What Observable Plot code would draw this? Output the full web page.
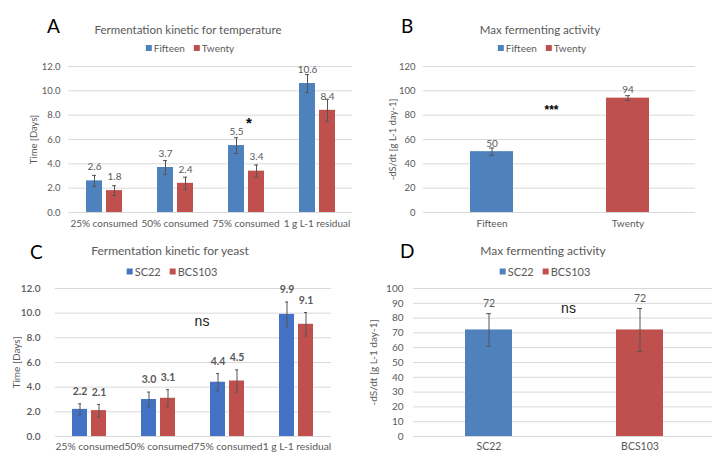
<!DOCTYPE html>
<html><head><meta charset="utf-8">
<script src="https://cdn.jsdelivr.net/npm/d3@7"></script>
<script src="https://cdn.jsdelivr.net/npm/@observablehq/plot@0.6"></script>
<style>
body{margin:0;background:#fff;}
#fig{position:relative;width:712px;height:453px;overflow:hidden;background:#fff;font-family:Lato,sans-serif;color:#595959}
.panel{position:absolute}
.panel svg{overflow:visible;max-width:none}
.t{position:absolute;transform:translate(-50%,-50%);white-space:nowrap;font-size:11.5px;color:#595959}
.letter{position:absolute;transform:translate(0,-50%);font-size:19px;color:#000;line-height:1}
.legend{position:absolute;transform:translate(-50%,-50%);white-space:nowrap;font-size:10px;color:#595959}
.sw{display:inline-block;width:6px;height:6px;margin-right:2px;position:relative;top:-1px}
.gap{display:inline-block;width:9px}
</style>
</head><body>
<div id="fig"></div>
<script>
// ---------- data ----------
const stages = ["25% consumed", "50% consumed", "75% consumed", "1 g L-1 residual"];
const tempSeries = ["Fifteen", "Twenty"];
const tempFifteen = [2.6, 3.7, 5.5, 10.6];
const tempTwenty = [1.8, 2.4, 3.4, 8.4];
const tempFifteenErr = [0.45, 0.57, 0.65, 0.73];
const tempTwentyErr = [0.4, 0.5, 0.5, 0.9];
const maxTempValues = [50, 94];
const maxTempErr = [3, 2];
const yeastSeries = ["SC22", "BCS103"];
const yeastSC22 = [2.2, 3.0, 4.4, 9.9];
const yeastBCS103 = [2.1, 3.1, 4.5, 9.1];
const yeastSC22Err = [0.45, 0.6, 0.7, 1.0];
const yeastBCS103Err = [0.5, 0.7, 0.9, 0.95];
const maxYeastValues = [72, 72];
const maxYeastErr = [11, 14.5];
const kineticTicks = [0, 2, 4, 6, 8, 10, 12];
const maxTempTicks = [0, 20, 40, 60, 80, 100, 120];
const maxYeastTicks = [0, 10, 20, 30, 40, 50, 60, 70, 80, 90, 100];

// ---------- styles ----------
const blue = "#4f81bd", blueC = "#4472c4", red = "#c0504d";
const gridColor = "#d9d9d9", errColor = "#555555", txt = "#595959";
const baseStyle = {fontFamily: "Lato, sans-serif", fontSize: "10px", color: txt, background: "transparent", overflow: "visible"};

function kineticRows(series, vals, errs) {
  return stages.flatMap((s, i) => series.map((k, j) => ({stage: s, series: k, value: vals[j][i], err: errs[j][i]})));
}
function simpleRows(series, vals, errs) {
  return series.map((k, i) => ({series: k, value: vals[i], err: errs[i]}));
}
const rowsA = kineticRows(tempSeries, [tempFifteen, tempTwenty], [tempFifteenErr, tempTwentyErr]);
const rowsB = simpleRows(tempSeries, maxTempValues, maxTempErr);
const rowsC = kineticRows(yeastSeries, [yeastSC22, yeastBCS103], [yeastSC22Err, yeastBCS103Err]);
const rowsD = simpleRows(yeastSeries, maxYeastValues, maxYeastErr);

function errMarks(rows, facet, capInset) {
  const fx = facet ? "stage" : undefined;
  return [
    Plot.ruleX(rows, {fx, x: "series", y1: d => d.value - d.err, y2: d => d.value + d.err, stroke: errColor, strokeWidth: 1}),
    Plot.tickY(rows, {fx, x: "series", y: d => d.value + d.err, stroke: errColor, inset: capInset}),
    Plot.tickY(rows, {fx, x: "series", y: d => d.value - d.err, stroke: errColor, inset: capInset})
  ];
}

// ---------- Panel A ----------
const plotA = Plot.plot({
  width: 360, height: 235, marginLeft: 68, marginRight: 8, marginTop: 66, marginBottom: 23,
  style: baseStyle,
  fx: {domain: stages, padding: 0, axis: null},
  x: {domain: tempSeries, paddingInner: 0.2, paddingOuter: 0.875, axis: null},
  y: {domain: [0, 12], axis: null},
  color: {domain: tempSeries, range: [blue, red]},
  marks: [
    Plot.gridY({ticks: kineticTicks, stroke: gridColor, strokeOpacity: 1}),
    Plot.axisY({ticks: kineticTicks, tickSize: 0, tickPadding: 8, tickFormat: d3.format(".1f"), fontSize: 9.5,
      label: "Time [Days]", labelAnchor: "center", labelOffset: 38, labelArrow: "none"}),
    Plot.axisFx({anchor: "bottom", tickSize: 0, tickPadding: 7, label: null, fontSize: 10}),
    Plot.barY(rowsA, {fx: "stage", x: "series", y: "value", fill: "series"}),
    ...errMarks(rowsA, true, 6),
    Plot.text(rowsA, {fx: "stage", x: "series", y: "value", text: d => d.value.toFixed(1), dy: -14, fill: txt, fontSize: 10}),
    Plot.text(["*"], {fx: ["75% consumed"], y: [7.3], text: d => d, dx: 3, fill: "#000", fontSize: 15, fontWeight: "bold", fontFamily: "Liberation Sans"})
  ]
});

// ---------- Panel B ----------
const plotB = Plot.plot({
  width: 357, height: 235, marginLeft: 68, marginRight: 17, marginTop: 66, marginBottom: 23,
  style: baseStyle,
  x: {domain: tempSeries, paddingInner: 0.684, paddingOuter: 0.342, axis: null},
  y: {domain: [0, 120], axis: null},
  color: {domain: tempSeries, range: [blue, red]},
  marks: [
    Plot.gridY({ticks: maxTempTicks, stroke: gridColor, strokeOpacity: 1}),
    Plot.axisY({ticks: maxTempTicks, tickSize: 0, tickPadding: 8, fontSize: 9.5,
      label: "-dS/dt [g L-1 day-1]", labelAnchor: "center", labelOffset: 34, labelArrow: "none"}),
    Plot.axisX({tickSize: 0, tickPadding: 7, label: null, fontSize: 10}),
    Plot.barY(rowsB, {x: "series", y: "value", fill: "series"}),
    ...errMarks(rowsB, false, 19),
    Plot.text(rowsB, {x: "series", y: "value", text: d => String(d.value), dy: -8, fill: txt, fontSize: 10}),
    Plot.text(["***"], {y: [84], text: d => d, dx: -8, fill: "#000", fontSize: 12, fontWeight: "bold", fontFamily: "Liberation Sans"})
  ]
});

// ---------- Panel C ----------
const plotC = Plot.plot({
  width: 360, height: 223, marginLeft: 54, marginRight: 28, marginTop: 58, marginBottom: 17,
  style: baseStyle,
  fx: {domain: stages, padding: 0, axis: null},
  x: {domain: yeastSeries, paddingInner: 0.2, paddingOuter: 0.87, axis: null},
  y: {domain: [0, 12], axis: null},
  color: {domain: yeastSeries, range: [blueC, red]},
  marks: [
    Plot.gridY({ticks: kineticTicks, stroke: gridColor, strokeOpacity: 1}),
    Plot.axisY({ticks: kineticTicks, tickSize: 0, tickPadding: 15, tickFormat: d3.format(".1f"), fontSize: 10, fontWeight: 600,
      label: null}),
    Plot.axisY({ticks: [], tickSize: 0, fontSize: 10,
      label: "Time [Days]", labelAnchor: "center", labelOffset: 43, labelArrow: "none"}),
    Plot.axisFx({anchor: "bottom", tickSize: 0, tickPadding: 6, label: null, fontSize: 10.3}),
    Plot.barY(rowsC, {fx: "stage", x: "series", y: "value", fill: "series"}),
    ...errMarks(rowsC, true, 6),
    Plot.text(rowsC, {fx: "stage", x: "series", y: d => d.value + d.err, text: d => d.value.toFixed(1), dy: -12, fill: txt, fontSize: 10.5, fontWeight: "bold"}),
    Plot.text(["ns"], {fx: ["75% consumed"], y: [9.3], text: d => d, dx: -26, fill: "#222", fontSize: 14, fontFamily: "Liberation Sans"})
  ]
});

// ---------- Panel D ----------
const plotD = Plot.plot({
  width: 360, height: 223, marginLeft: 58, marginRight: 0, marginTop: 58, marginBottom: 17,
  style: baseStyle,
  x: {domain: yeastSeries, paddingInner: 0.69, paddingOuter: 0.345, axis: null},
  y: {domain: [0, 100], axis: null},
  color: {domain: yeastSeries, range: [blue, red]},
  marks: [
    Plot.gridY({ticks: maxYeastTicks, stroke: gridColor, strokeOpacity: 1}),
    Plot.axisY({ticks: maxYeastTicks, tickSize: 0, tickPadding: 10, fontSize: 10,
      label: "-dS/dt [g L-1 day-1]", labelAnchor: "center", labelOffset: 44, labelArrow: "none"}),
    Plot.axisX({tickSize: 0, tickPadding: 6, label: null, fontSize: 10.5}),
    Plot.barY(rowsD, {x: "series", y: "value", fill: "series"}),
    ...errMarks(rowsD, false, 21),
    Plot.text(rowsD, {x: "series", y: d => d.value + d.err, text: d => String(d.value), dy: -10, fill: txt, fontSize: 10.5}),
    Plot.text(["ns"], {y: [86.6], text: d => d, dx: 4, fill: "#222", fontSize: 14, fontFamily: "Liberation Sans"})
  ]
});

// ---------- layout ----------
const fig = document.getElementById("fig");
function addPanel(plot, left, top) {
  const d = document.createElement("div");
  d.className = "panel"; d.style.left = left + "px"; d.style.top = top + "px";
  d.appendChild(plot); fig.appendChild(d);
}
addPanel(plotA, 0, 0);
addPanel(plotB, 355, 0);
addPanel(plotC, 0, 230);
addPanel(plotD, 355, 230);

function addText(cls, text, x, y, extra) {
  const e = document.createElement("div");
  e.className = cls; e.textContent = text;
  e.style.left = x + "px"; e.style.top = y + "px";
  if (extra) Object.assign(e.style, extra);
  fig.appendChild(e);
}
function addLegend(series, colors, x, y, size) {
  const e = document.createElement("div");
  e.className = "legend"; e.style.left = x + "px"; e.style.top = y + "px";
  if (size) e.style.fontSize = size + "px";
  series.forEach((s, i) => {
    if (i) { const g = document.createElement("span"); g.className = "gap"; e.appendChild(g); }
    const sw = document.createElement("span"); sw.className = "sw"; sw.style.background = colors[i];
    e.appendChild(sw);
    e.appendChild(document.createTextNode(s));
  });
  fig.appendChild(e);
}
addText("letter", "A", 47, 25);
addText("t", "Fermentation kinetic for temperature", 188, 29);
addLegend(tempSeries, [blue, red], 190, 48);
addText("letter", "B", 401, 25);
addText("t", "Max fermenting activity", 540, 29);
addLegend(tempSeries, [blue, red], 542, 48);
addText("letter", "C", 30, 251);
addText("t", "Fermentation kinetic for yeast", 170, 250, {fontSize: "12px"});
addLegend(yeastSeries, [blueC, red], 172, 271, 11);
addText("letter", "D", 400, 250);
addText("t", "Max fermenting activity", 543, 250, {fontSize: "12px"});
addLegend(yeastSeries, [blue, red], 545, 271, 11);
</script>
</body></html>
